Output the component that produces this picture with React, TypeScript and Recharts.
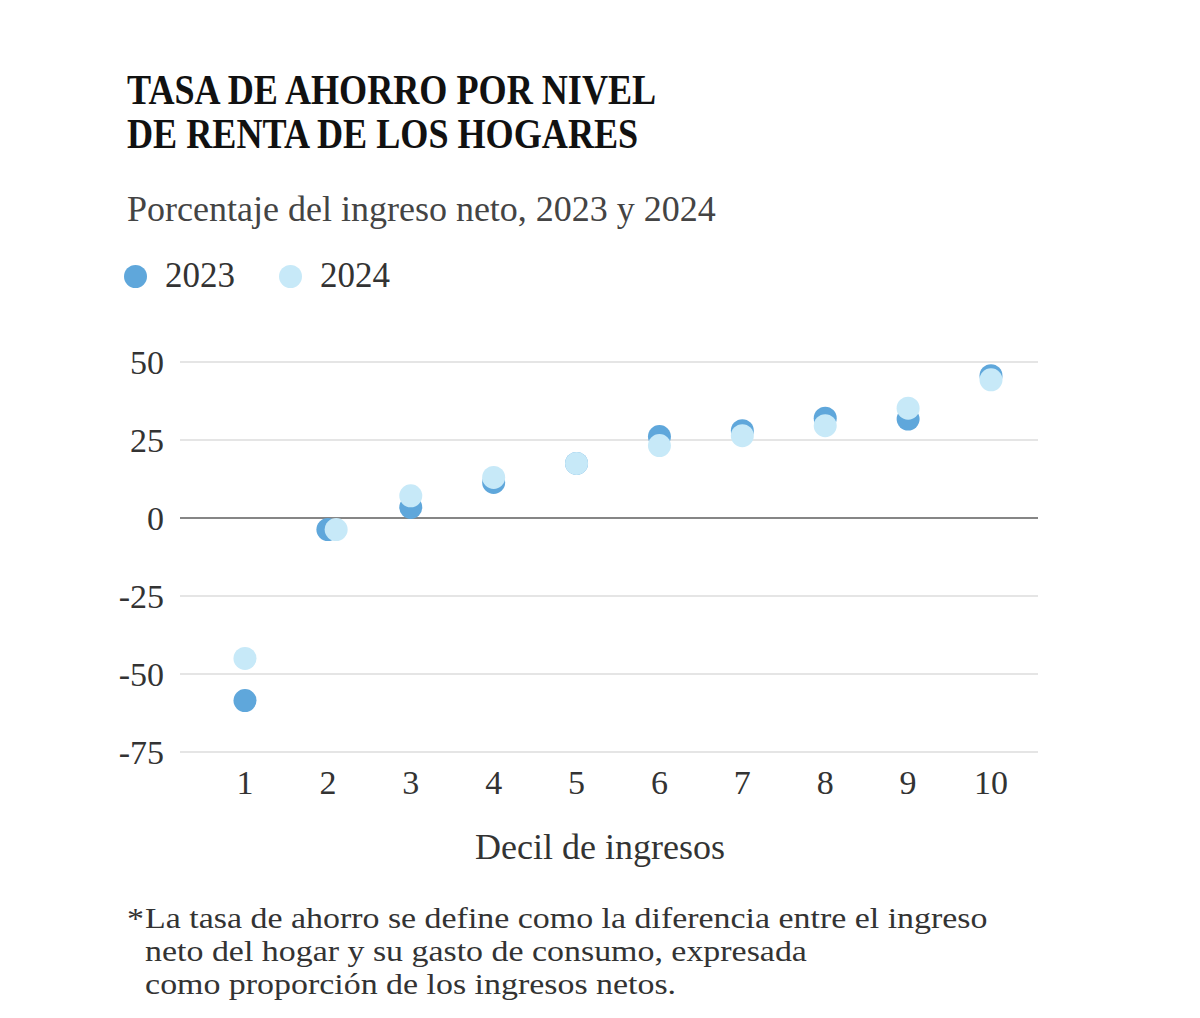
import React from "react";
import {
  ScatterChart, Scatter, XAxis, YAxis, CartesianGrid, ReferenceLine,
} from "recharts";

// Decil de ingresos (1 = más bajo)
const deciles = [1, 2, 3, 4, 5, 6, 7, 8, 9, 10];
// Tasa de ahorro, % del ingreso neto
const ahorro2023 = [-58.5, -3.7, 3.4, 11.4, 17.5, 26.1, 28.0, 32.0, 31.7, 45.6];
const ahorro2024 = [-45.0, -3.7, 7.1, 13.0, 17.5, 23.2, 26.4, 29.6, 35.2, 44.3];
// in decile 2 the 2024 dot sits a bit to the right
const offset2024 = [0, 0.1, 0, 0, 0, 0, 0, 0, 0, 0];
const yTicks = [-75, -50, -25, 0, 25, 50];

const COLOR_2023 = "#5fa7db";
const COLOR_2024 = "#c7e9f8";
const SERIF = "'Liberation Serif', 'DejaVu Serif', serif";

const data2023 = deciles.map((d, i) => ({ x: d, y: ahorro2023[i] }));
const data2024 = deciles.map((d, i) => ({ x: d + offset2024[i], y: ahorro2024[i] }));

const dot = (fill: string) => (props: any) => (
  <circle cx={props.cx} cy={props.cy} r={11.5} fill={fill} />
);

export default function App() {
  return (
    <div style={{ position: "absolute", left: 0, top: 0, width: 1200, height: 1018, background: "#fff", fontFamily: SERIF, color: "#222" }}>
      <div style={{ position: "absolute", left: 127, top: 68, fontSize: 42, fontWeight: 700, lineHeight: "44px", color: "#111", transform: "scaleX(0.86)", transformOrigin: "left top", whiteSpace: "nowrap" }}>
        TASA DE AHORRO POR NIVEL<br />DE RENTA DE LOS HOGARES
      </div>
      <div style={{ position: "absolute", left: 127, top: 188, fontSize: 36, color: "#444", whiteSpace: "nowrap" }}>
        Porcentaje del ingreso neto, 2023 y 2024
      </div>
      <div style={{ position: "absolute", left: 124, top: 256, fontSize: 35, color: "#333", display: "flex", alignItems: "center", whiteSpace: "nowrap" }}>
        <span style={{ width: 23, height: 23, borderRadius: "50%", background: COLOR_2023, display: "inline-block", marginRight: 18 }} />
        <span>2023</span>
        <span style={{ width: 23, height: 23, borderRadius: "50%", background: COLOR_2024, display: "inline-block", marginLeft: 44, marginRight: 18 }} />
        <span>2024</span>
      </div>

      <div style={{ position: "absolute", left: 0, top: 0 }}>
        <ScatterChart width={1200} height={900} margin={{ top: 362, right: 162, bottom: 108, left: 0 }}>
          <CartesianGrid horizontal vertical={false} stroke="#dcdcdc" strokeWidth={1.5} />
          <XAxis
            type="number"
            dataKey="x"
            domain={[0.216, 10.567]}
            ticks={deciles}
            allowDataOverflow
            axisLine={false}
            tickLine={false}
            tickSize={0}
            tickMargin={18}
            height={40}
            tick={{ fill: "#333", fontSize: 34, fontFamily: SERIF }}
          />
          <YAxis
            type="number"
            dataKey="y"
            domain={[-75, 50]}
            ticks={yTicks}
            axisLine={false}
            tickLine={false}
            tickSize={0}
            tickMargin={16}
            width={180}
            tick={{ fill: "#333", fontSize: 34, fontFamily: SERIF }}
          />
          <ReferenceLine y={0} stroke="#666" strokeWidth={1.5} />
          <Scatter name="2023" data={data2023} shape={dot(COLOR_2023)} isAnimationActive={false} />
          <Scatter name="2024" data={data2024} shape={dot(COLOR_2024)} isAnimationActive={false} />
        </ScatterChart>
      </div>

      <div style={{ position: "absolute", left: 0, width: 1200, top: 826, textAlign: "center", fontSize: 36, color: "#333" }}>
        Decil de ingresos
      </div>
      <div style={{ position: "absolute", left: 127, top: 901, fontSize: 30, lineHeight: "33px", color: "#333", whiteSpace: "nowrap", transform: "scaleX(1.13)", transformOrigin: "left top" }}>
        <div><span style={{ display: "inline-block", width: 16 }}>*</span>La tasa de ahorro se define como la diferencia entre el ingreso</div>
        <div style={{ paddingLeft: 16 }}>neto del hogar y su gasto de consumo, expresada</div>
        <div style={{ paddingLeft: 16 }}>como proporción de los ingresos netos.</div>
      </div>
    </div>
  );
}
